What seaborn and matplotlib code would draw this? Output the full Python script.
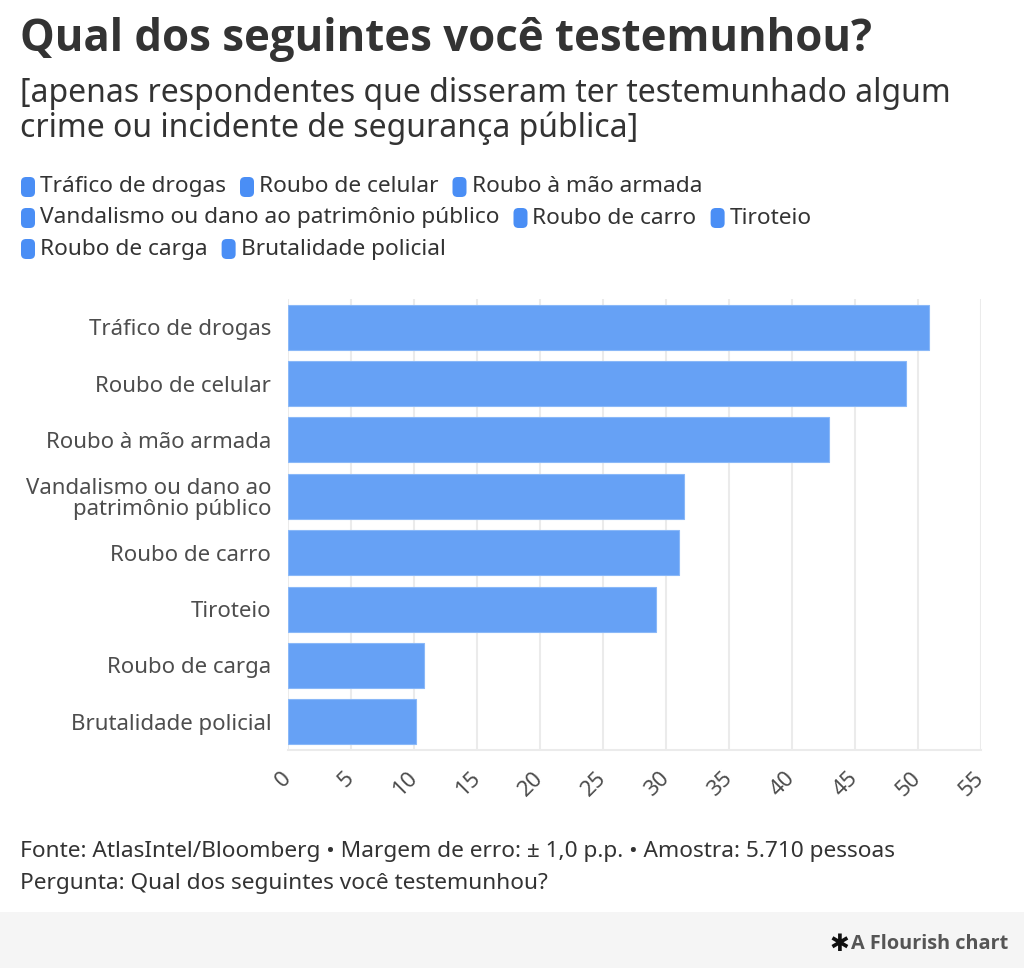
import matplotlib
matplotlib.use("Agg")
import matplotlib.pyplot as plt
from matplotlib.patches import FancyBboxPatch, Rectangle
import seaborn as sns
import pandas as pd

# ===============================
# Data
# ===============================
categories = [
    "Tráfico de drogas",
    "Roubo de celular",
    "Roubo à mão armada",
    "Vandalismo ou dano ao patrimônio público",
    "Roubo de carro",
    "Tiroteio",
    "Roubo de carga",
    "Brutalidade policial",
]
tick_labels = [
    "Tráfico de drogas",
    "Roubo de celular",
    "Roubo à mão armada",
    "Vandalismo ou dano ao\npatrimônio público",
    "Roubo de carro",
    "Tiroteio",
    "Roubo de carga",
    "Brutalidade policial",
]
values = [50.85, 49.05, 42.9, 31.4, 31.0, 29.2, 10.8, 10.15]
x_ticks = [0, 5, 10, 15, 20, 25, 30, 35, 40, 45, 50, 55]

title = "Qual dos seguintes você testemunhou?"
subtitle_lines = ["[apenas respondentes que disseram ter testemunhado algum",
                  "crime ou incidente de segurança pública]"]
footer_lines = ["Fonte: AtlasIntel/Bloomberg • Margem de erro: ± 1,0 p.p. • Amostra: 5.710 pessoas",
                "Pergunta: Qual dos seguintes você testemunhou?"]

df = pd.DataFrame({"Categoria": categories, "Valor": values})

BAR = "#66a1f5"
LEG = "#4a8ef5"
TXT = "#333333"
LBL = "#4d4d4d"
GRID = "#ebebeb"

sns.set_style("white")
plt.rcParams['font.family'] = ['Noto Sans', 'DejaVu Sans']
BOLD = ['Open Sans', 'Lato', 'DejaVu Sans']

W, H = 1024, 968
fig = plt.figure(figsize=(W / 100, H / 100), dpi=100)
fig.patch.set_facecolor("#f5f5f5")

# white card
fig.add_artist(Rectangle((0, 1 - 912 / H), 1, 912 / H, transform=fig.transFigure,
                         facecolor="white", edgecolor="none", zorder=0))

ax = fig.add_axes([288 / W, 1 - 750 / H, 693 / W, 451 / H])
sns.barplot(data=df, y="Categoria", x="Valor", orient="h", color=BAR,
            width=0.8, saturation=1, edgecolor="#8ab8f8", linewidth=0.8, ax=ax)

ax.set_xlim(0, 55)
ax.set_xticks(x_ticks)
ax.set_xticklabels([str(t) for t in x_ticks], rotation=45, ha="right", va="center",
                   rotation_mode="anchor", fontsize=16, color=LBL)
ax.set_yticks(range(len(tick_labels)))
ax.set_yticklabels(tick_labels, fontsize=16, color=LBL, linespacing=1.0)
ax.set_xlabel("")
ax.set_ylabel("")
ax.grid(axis="x", color=GRID, linewidth=1.5)
ax.set_axisbelow(True)
for s in ["top", "right", "left"]:
    ax.spines[s].set_visible(False)
ax.spines["bottom"].set_color(GRID)
ax.spines["bottom"].set_linewidth(1.5)
ax.tick_params(axis="x", length=6, color=GRID, width=1.5, pad=12)
ax.tick_params(axis="y", length=6, color=GRID, width=1.5, pad=6)

# title / subtitle
fig.text(20 / W, 1 - 40 / H, title, fontsize=31.5, fontweight="bold", family=BOLD,
         color=TXT, va="center")
for i, line in enumerate(subtitle_lines):
    fig.text(20 / W, 1 - (93 + 35 * i) / H, line, fontsize=23, color=TXT, va="center")

# flow legend
fig.canvas.draw()
renderer = fig.canvas.get_renderer()
x0, x_max = 20, 975
x, y = x0, 187
row_h = 31
for cat in categories:
    t = fig.text(0, 0, cat, fontsize=16.3, color=TXT, va="center")
    w = t.get_window_extent(renderer).width
    item_w = 21 + w
    if x + item_w > x_max and x > x0:
        x = x0
        y += row_h
    fig.add_artist(FancyBboxPatch(((x + 1) / W, 1 - (y + 10) / H), 14 / W, 20 / H,
                                  boxstyle="round,pad=0,rounding_size=0.005",
                                  transform=fig.transFigure, facecolor=LEG,
                                  edgecolor="none"))
    t.set_position(((x + 20) / W, 1 - y / H))
    x += item_w + 12

# footer
for i, line in enumerate(footer_lines):
    fig.text(20 / W, 1 - (851 + 32 * i) / H, line, fontsize=16.3, color=TXT, va="center")
fig.text(1008 / W, 1 - 944 / H, "A Flourish chart", fontsize=14.3, fontweight="bold",
         family=BOLD, color="#555555", ha="right", va="center")
fig.text(849 / W, 1 - 945 / H, "✱", fontsize=17, fontweight="bold",
         color="#111111", ha="right", va="center")

fig.savefig("out.png", dpi=100, facecolor=fig.get_facecolor())
